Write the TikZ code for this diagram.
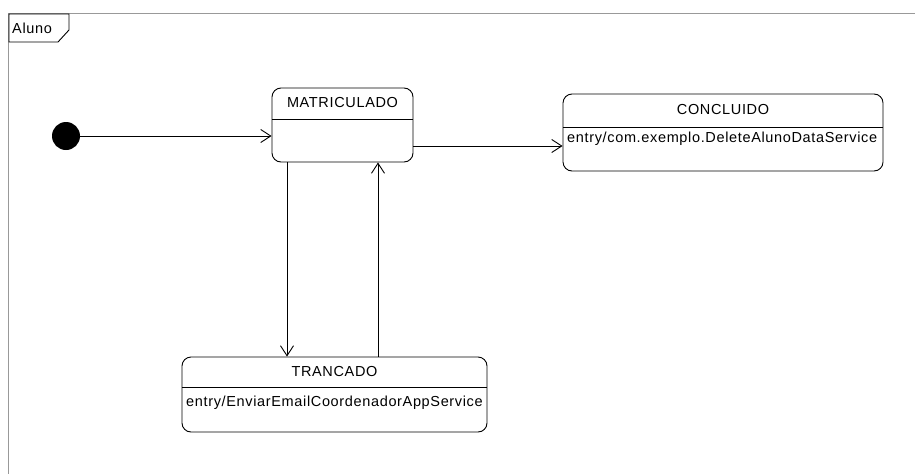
\documentclass[tikz,border=0pt]{standalone}
\usepackage{fontspec}
\setmainfont{Liberation Sans}[LetterSpace=4.5]
\usetikzlibrary{arrows.meta}
\begin{document}
\begin{tikzpicture}[x=1pt,y=-1pt,
  frameline/.style={draw=black!40, line width=1pt},
  statebox/.style={draw, line width=0.9pt, rounded corners=9pt, inner sep=0pt},
  title/.style={font=\fontsize{14.5}{16}\selectfont, inner sep=0pt},
  body/.style={font=\fontsize{14.5}{16}\selectfont, inner sep=0pt},
  arr/.style={draw, line width=0.9pt, -{Straight Barb[length=10pt,width=13pt,line width=0.9pt]}}]
\useasboundingbox (0,0) rectangle (915,474);
\fill[white] (0,0) rectangle (915,474);
% enclosing frame
\draw[frameline] (915,13) -- (8,13) -- (8,474);
\draw[line width=0.9pt] (9,14) -- (69,14) -- (69,30) -- (58,42) -- (9,42) -- cycle;
\node[body, anchor=west] (frameLabel) at (12,28) {Aluno};
% initial pseudo-state
\node[circle, fill=black, minimum size=28pt, inner sep=0pt] (init) at (66,136) {};
% MATRICULADO
\node[statebox, minimum width=141pt, minimum height=74pt] (mat) at (342.5,125) {};
\draw[line width=0.9pt] (272,119) -- (413,119);
\node[title] (matT) at (342.5,103) {MATRICULADO};
% CONCLUIDO
\node[statebox, minimum width=320pt, minimum height=77pt] (conc) at (723,132.5) {};
\draw[line width=0.9pt] (563,127) -- (883,127);
\node[title] (concT) at (723,110) {CONCLUIDO};
\node[body, anchor=west] (concE) at (567,139) {entry/com.exemplo.DeleteAlunoDataService};
% TRANCADO
\node[statebox, minimum width=305pt, minimum height=75pt] (tran) at (334.5,394.5) {};
\draw[line width=0.9pt] (182,387) -- (487,387);
\node[title] (tranT) at (334.5,372) {TRANCADO};
\node[body, anchor=west] (tranE) at (186,403) {entry/EnviarEmailCoordenadorAppService};
% transitions
\draw[arr] (init.east) -- (init.east -| mat.west);
\draw[arr] (mat.east |- 0,146) -- (conc.west |- 0,146);
\draw[arr] (mat.south -| 287,0) -- (tran.north -| 287,0);
\draw[arr] (tran.north -| 378,0) -- (mat.south -| 378,0);
\end{tikzpicture}
\end{document}
